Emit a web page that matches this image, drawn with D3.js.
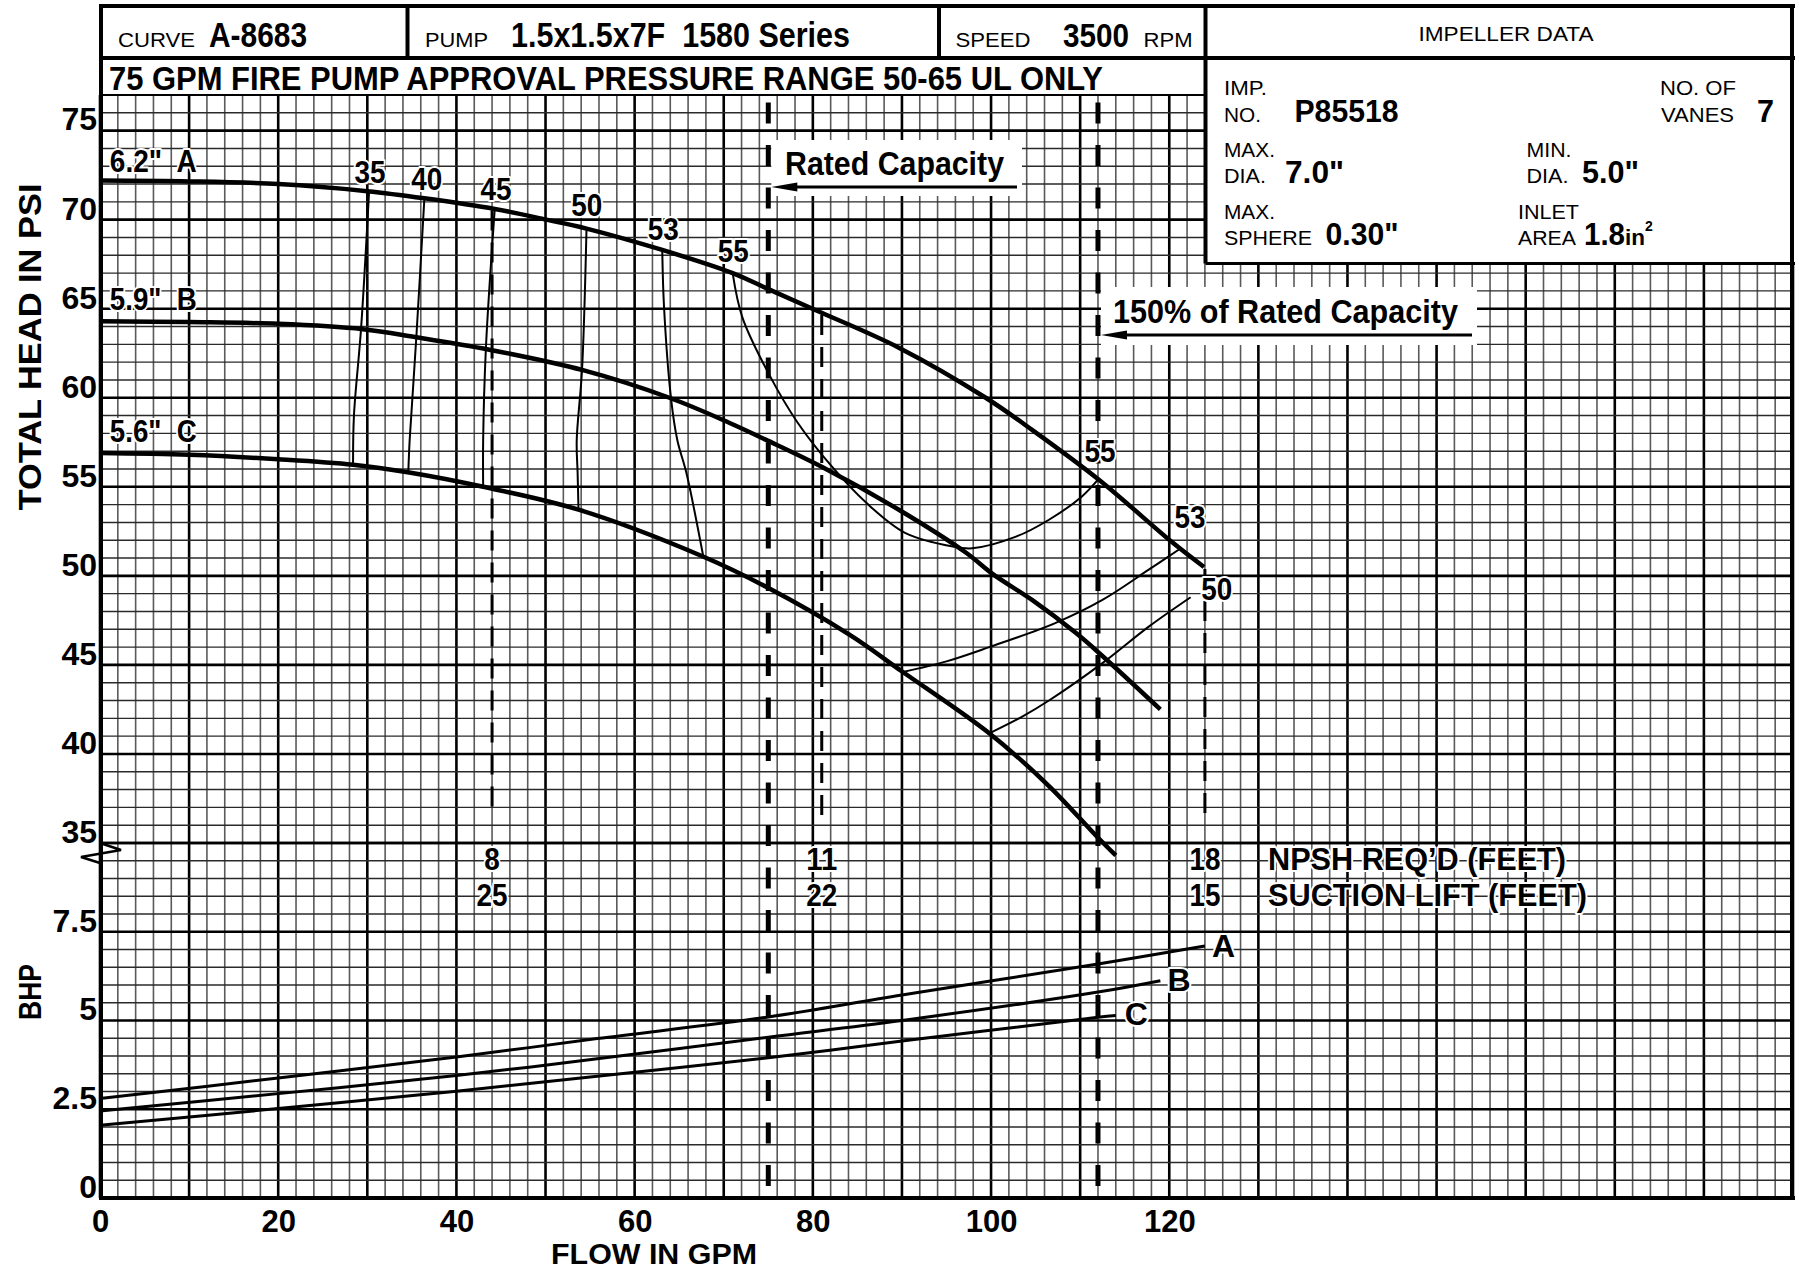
<!DOCTYPE html>
<html><head><meta charset="utf-8">
<script src="https://cdn.jsdelivr.net/npm/d3@7"></script>
<style>
body{margin:0;background:#fff}
svg{display:block}
text{font-family:"Liberation Sans",Arial,Helvetica,sans-serif}
</style>
</head><body>
<svg id="c" width="1799" height="1270"></svg>
<script>
// ---------------- DATA ----------------
const flowTicks = [0, 20, 40, 60, 80, 100, 120];
const headTicks = [35, 40, 45, 50, 55, 60, 65, 70, 75];
const bhpTicks = [0, 2.5, 5, 7.5];

// Head curves [flow GPM, head PSI]
const curveA = [[0,72.2],[10,72.15],[20,72.0],[30,71.6],[36.4,71.2],[44.3,70.6],[50.1,70.0],[54.6,69.5],[63.1,68.3],[71,67.0],[75,66.1],[80.4,64.9],[89.7,62.8],[99.4,60.0],[104.6,58.2],[112.1,55.4],[120.3,51.9],[123.9,50.5]];
const curveB = [[0,64.3],[10,64.25],[20,64.15],[29.5,63.85],[35.5,63.4],[43.7,62.7],[54.2,61.55],[63.9,60.0],[70.6,58.6],[74.7,57.65],[81.1,56.1],[89.7,53.7],[97.2,51.3],[100.2,50.1],[104.6,48.65],[109.5,46.8],[112.5,45.5],[119.0,42.5]];
const curveC = [[0,56.9],[10,56.8],[20,56.55],[28.4,56.24],[34.7,55.8],[43.0,55.0],[53.8,53.7],[67.6,51.1],[74.7,49.4],[84.1,46.7],[90.1,44.6],[99.8,41.16],[106.5,38.2],[111.9,35.35],[114.0,34.3]];
const curveNames = ['6.2"  A', '5.9"  B', '5.6"  C'];
const curveNamePos = [[1.1,72.68],[1.1,64.93],[1.1,57.52]];

// Efficiency iso-lines
const eff35 = [[30.2,71.6],[29.3,63.9],[28.5,59.0],[28.4,56.24]];
const eff40 = [[36.4,71.16],[35.5,63.4],[34.75,57.6],[34.6,55.8]];
const eff45 = [[44.3,70.6],[43.3,62.7],[43.0,57.6],[43.0,55.0]];
const eff50 = [[54.6,69.5],[54.1,61.6],[53.5,57.6],[53.6,55.8],[53.7,53.7]];
const eff53 = [[63.1,68.3],[63.3,65.1],[64.1,59.9],[64.8,57.6],[65.8,55.8],[67.7,51.1]];
const eff55 = [[71.0,67.0],[72.1,64.5],[75.1,61.3],[78.3,58.6],[82.2,56.1],[86.0,54.1],[90.4,52.4],[95.7,51.65],[97.9,51.55],[102.8,52.2],[106.5,53.15],[110.2,54.46],[112.0,55.4]];
const eff53r = [[90.1,44.6],[95,45.2],[99.8,46.0],[107.2,47.35],[112.5,48.65],[117.7,50.35],[121.3,51.55]];
const eff50r = [[99.8,41.16],[103.5,42.1],[106.5,43.0],[112.5,45.1],[117.7,47.15],[122.4,48.8]];
const effValues = [35, 40, 45, 50, 53, 55, 55, 53, 50];
const effLabelPos = [[30.3,72.06],[36.66,71.66],[44.44,71.10],[54.62,70.18],[63.22,68.86],[71.07,67.65],[112.23,56.42],[122.33,52.69],[125.32,48.64]];

// BHP curves [flow GPM, BHP]
const bhpA = [[0,2.8],[20,3.38],[40,3.97],[55.8,4.49],[75,5.1],[90,5.72],[112,6.59],[124,7.1]];
const bhpB = [[0,2.45],[20,2.94],[40,3.45],[55.8,3.92],[75,4.53],[90,5.0],[112,5.8],[119,6.12]];
const bhpC = [[0,2.05],[20,2.52],[40,3.01],[55.8,3.43],[75,3.95],[90,4.42],[112,5.09],[114,5.14]];
const bhpNames = ["A", "B", "C"];
const bhpNamePos = [[126.1,6.80],[121.1,5.83],[116.3,4.87]];

// NPSH / suction lift
const npshFlow = [44, 81, 124];
const npshReq = [8, 11, 18];
const suctionLift = [25, 22, 15];
const ratedFlow = 75;
const flow150 = 112;

// ---------------- SCALES ----------------
const svg = d3.select("#c");
const x = d3.scaleLinear().domain([0, 190]).range([100, 1793]);
const yH = d3.scaleLinear().domain([35, 77]).range([843, 95]);
const yB = d3.scaleLinear().domain([0, 10]).range([1198, 843]);

const baseFam = '"Liberation Sans",Arial,Helvetica,sans-serif';

function txt(g, s, px, py, o = {}) {
  const t = g.append("text").attr("x", px).attr("y", py).text(s)
    .attr("font-size", o.size || 20)
    .attr("font-weight", o.bold ? "bold" : "normal")
    .attr("text-anchor", o.anchor || "start")
    .attr("font-family", baseFam)
    .attr("fill", "#000");
  if (o.len) t.attr("textLength", o.len).attr("lengthAdjust", "spacingAndGlyphs");
  if (o.halo) t.attr("stroke", "#fff").attr("stroke-width", o.halo).attr("paint-order", "stroke").attr("stroke-linejoin", "round");
  if (o.pre) t.style("white-space", "pre");
  return t;
}

// ---------------- GRID ----------------
const grid = svg.append("g");
d3.range(0, 191, 2).forEach(g => {
  const major = g % 10 === 0;
  grid.append("line").attr("x1", x(g)).attr("x2", x(g)).attr("y1", yH(77)).attr("y2", yB(0))
    .attr("stroke", major ? "#000" : "#5a5a5a").attr("stroke-width", major ? 2.6 : 1.6);
});
d3.range(35, 77.01, 1).forEach(p => {
  const major = p % 5 === 0;
  grid.append("line").attr("x1", x(0)).attr("x2", x(190)).attr("y1", yH(p)).attr("y2", yH(p))
    .attr("stroke", major ? "#000" : "#2a2a2a").attr("stroke-width", major ? 2.6 : 1.4);
});
d3.range(0, 10.01, 0.5).forEach(b => {
  const major = b % 2.5 === 0;
  grid.append("line").attr("x1", x(0)).attr("x2", x(190)).attr("y1", yB(b)).attr("y2", yB(b))
    .attr("stroke", major ? "#000" : "#2a2a2a").attr("stroke-width", major ? 2.6 : 1.4);
});
grid.append("line").attr("x1", x(0)).attr("x2", x(190)).attr("y1", yH(77)).attr("y2", yH(77)).attr("stroke", "#000").attr("stroke-width", 2);

// ---------------- HEADER BACKGROUND ----------------
svg.append("rect").attr("x", 100).attr("y", 0).attr("width", 1106).attr("height", yH(77) - 1).attr("fill", "#fff");
svg.append("rect").attr("x", 1205).attr("y", 0).attr("width", 594).attr("height", 263).attr("fill", "#fff");

// ---------------- CURVES ----------------
const lineH = d3.line().x(d => x(d[0])).y(d => yH(d[1])).curve(d3.curveCatmullRom.alpha(0.5));
const lineB = d3.line().x(d => x(d[0])).y(d => yB(d[1])).curve(d3.curveCatmullRom.alpha(0.5));
const curves = svg.append("g").attr("fill", "none").attr("stroke", "#000");

[eff35, eff40, eff45, eff50, eff53, eff55, eff53r, eff50r].forEach(d => {
  curves.append("path").attr("d", lineH(d)).attr("stroke-width", 2);
});
[curveA, curveB, curveC].forEach(d => {
  curves.append("path").attr("d", lineH(d)).attr("stroke-width", 4.5).attr("stroke-linecap", "butt");
});
[bhpA, bhpB, bhpC].forEach(d => {
  curves.append("path").attr("d", lineB(d)).attr("stroke-width", 3);
});

// Dashed lines
const dash = svg.append("g").attr("stroke", "#000").attr("fill", "none");
[ratedFlow, flow150].forEach(f => {
  dash.append("line").attr("x1", x(f)).attr("x2", x(f)).attr("y1", 102.5).attr("y2", yB(0) - 2)
    .attr("stroke-width", 5).attr("stroke-dasharray", "21,21.5");
});
const headAtA = f => {
  const i = d3.bisector(d => d[0]).left(curveA, f);
  const a = curveA[Math.max(0, i - 1)], b = curveA[Math.min(curveA.length - 1, i)];
  if (a === b || b[0] === a[0]) return a[1];
  return a[1] + (b[1] - a[1]) * (f - a[0]) / (b[0] - a[0]);
};
npshFlow.forEach(f => {
  dash.append("line").attr("x1", x(f)).attr("x2", x(f)).attr("y1", yH(headAtA(f)) + 2).attr("y2", yH(36.45))
    .attr("stroke-width", 3).attr("stroke-dasharray", "20,12");
});

// Break symbol
svg.append("polyline").attr("points", [[x(0), yH(35)], [x(0) + 21, yH(35) + 7], [x(0) - 19, yH(35) + 14], [x(0), yH(35) + 20]].map(p => p.join(",")).join(" "))
  .attr("fill", "none").attr("stroke", "#000").attr("stroke-width", 2.5);

// ---------------- FRAME ----------------
const fr = svg.append("g").attr("stroke", "#000").attr("stroke-width", 4);
fr.append("line").attr("x1", 99).attr("x2", 1795).attr("y1", 6).attr("y2", 6);
fr.append("line").attr("x1", 101).attr("x2", 101).attr("y1", 4).attr("y2", 1200);
fr.append("line").attr("x1", 99).attr("x2", 1795).attr("y1", 1198).attr("y2", 1198);
fr.append("line").attr("x1", 1792).attr("x2", 1792).attr("y1", 4).attr("y2", 1200);
fr.append("line").attr("x1", 99).attr("x2", 1795).attr("y1", 58).attr("y2", 58);
fr.append("line").attr("x1", 407.5).attr("x2", 407.5).attr("y1", 6).attr("y2", 58);
fr.append("line").attr("x1", 939).attr("x2", 939).attr("y1", 6).attr("y2", 58);
fr.append("line").attr("x1", 1205.5).attr("x2", 1205.5).attr("y1", 6).attr("y2", 263.5);
fr.append("line").attr("x1", 1205.5).attr("x2", 1795).attr("y1", 263.5).attr("y2", 263.5).attr("stroke-width", 3);

// ---------------- ANNOTATION BOXES ----------------
const ann = svg.append("g");
function callout(x0, x1, y0, y1, label, tx, ty, size, len, ay, ax1) {
  ann.append("rect").attr("x", x0).attr("y", y0).attr("width", x1 - x0).attr("height", y1 - y0).attr("fill", "#fff");
  txt(ann, label, tx, ty, { size: size, bold: true, len: len });
  ann.append("line").attr("x1", x0 + 20).attr("x2", ax1).attr("y1", ay).attr("y2", ay).attr("stroke", "#000").attr("stroke-width", 3);
  ann.append("path").attr("d", `M${x0},${ay} L${x0 + 26},${ay - 4.5} L${x0 + 26},${ay + 4.5} Z`).attr("fill", "#000");
}
callout(x(ratedFlow) + 3, 1022, 140, 196, "Rated Capacity", 785, 175, 33, 219, 187, 1017);
callout(x(flow150) + 3, 1477, 287, 345, "150% of Rated Capacity", 1113, 322.5, 34, 345, 335, 1472);

// ---------------- AXES ----------------
const axH = svg.append("g").attr("transform", `translate(${x(0) - 3},0)`)
  .call(d3.axisLeft(yH).tickValues(headTicks).tickSize(0).tickPadding(0).tickFormat(d3.format("d")));
const axB = svg.append("g").attr("transform", `translate(${x(0) - 3},0)`)
  .call(d3.axisLeft(yB).tickValues(bhpTicks).tickSize(0).tickPadding(0).tickFormat(d => String(d)));
const axX = svg.append("g").attr("transform", `translate(0,${yB(0)})`)
  .call(d3.axisBottom(x).tickValues(flowTicks).tickSize(0).tickPadding(12).tickFormat(d3.format("d")));
[axH, axB, axX].forEach(a => {
  a.select(".domain").remove();
  a.attr("font-family", baseFam);
  a.selectAll("text").attr("font-size", 32).attr("font-weight", "bold").attr("fill", "#000");
});
axX.selectAll("text").attr("font-size", 31);
axH.selectAll("text").attr("dy", "-0.02em");
axB.selectAll("text").attr("dy", "-0.02em");

txt(svg, "FLOW IN GPM", 654, 1263.5, { size: 29, bold: true, anchor: "middle", len: 206 });
txt(svg, "TOTAL HEAD IN PSI", 0, 0, { size: 31, bold: true, anchor: "middle", len: 327 })
  .attr("transform", "translate(41,347) rotate(-90)");
txt(svg, "BHP", 0, 0, { size: 31, bold: true, anchor: "middle", len: 56 })
  .attr("transform", "translate(41,992) rotate(-90)");

// ---------------- LABELS ----------------
const lab = svg.append("g");
curveNames.forEach((n, i) => {
  txt(lab, n, x(curveNamePos[i][0]), yH(curveNamePos[i][1]), { size: 31, bold: true, len: 87, halo: 4, pre: true });
});
effValues.forEach((v, i) => {
  txt(lab, String(v), x(effLabelPos[i][0]), yH(effLabelPos[i][1]), { size: 32, bold: true, anchor: "middle", len: 31, halo: 4 });
});
bhpNames.forEach((n, i) => {
  txt(lab, n, x(bhpNamePos[i][0]), yB(bhpNamePos[i][1]), { size: 32, bold: true, anchor: "middle", halo: 4 });
});
npshFlow.forEach((f, i) => {
  const r = String(npshReq[i]), s = String(suctionLift[i]);
  txt(lab, r, x(f), yH(35) + 26.5, { size: 32, bold: true, anchor: "middle", len: r.length * 15.5, halo: 4 });
  txt(lab, s, x(f), yH(35) + 62.5, { size: 32, bold: true, anchor: "middle", len: s.length * 15.5, halo: 4 });
});
txt(lab, "NPSH REQ\u2019D (FEET)", 1268, yH(35) + 26.5, { size: 32, bold: true, len: 298, halo: 4 });
txt(lab, "SUCTION LIFT (FEET)", 1268, yH(35) + 62.5, { size: 32, bold: true, len: 319, halo: 4 });

// ---------------- HEADER TEXT ----------------
const hd = svg.append("g");
txt(hd, "CURVE", 118, 47, { size: 20, len: 77 });
txt(hd, "A-8683", 209, 47, { size: 35, bold: true, len: 98 });
txt(hd, "PUMP", 425, 47, { size: 20, len: 63 });
txt(hd, "1.5x1.5x7F  1580 Series", 511, 47, { size: 35, bold: true, len: 339, pre: true });
txt(hd, "SPEED", 955.5, 47, { size: 20, len: 75 });
txt(hd, "3500", 1063, 47, { size: 34, bold: true, len: 66 });
txt(hd, "RPM", 1143.5, 47, { size: 20, len: 49 });
txt(hd, "IMPELLER DATA", 1506, 40.5, { size: 20, anchor: "middle", len: 175 });
txt(hd, "75 GPM FIRE PUMP APPROVAL PRESSURE RANGE 50-65 UL ONLY", 109, 90, { size: 33, bold: true, len: 994 });

txt(hd, "IMP.", 1224, 95, { size: 20, len: 43 });
txt(hd, "NO.", 1224, 121.5, { size: 20, len: 37 });
txt(hd, "P85518", 1294.5, 121.5, { size: 31, bold: true, len: 104 });
txt(hd, "NO. OF", 1660, 95, { size: 20, len: 76 });
txt(hd, "VANES", 1661, 121.5, { size: 20, len: 73 });
txt(hd, "7", 1757, 121.5, { size: 32, bold: true, len: 17 });
txt(hd, "MAX.", 1224, 156.5, { size: 20, len: 51 });
txt(hd, "DIA.", 1224, 183, { size: 20, len: 42 });
txt(hd, "7.0\"", 1285, 183, { size: 32, bold: true, len: 59 });
txt(hd, "MIN.", 1526.5, 156.5, { size: 20, len: 45 });
txt(hd, "DIA.", 1526.5, 183, { size: 20, len: 42 });
txt(hd, "5.0\"", 1582, 183, { size: 32, bold: true, len: 57 });
txt(hd, "MAX.", 1224, 219, { size: 20, len: 51 });
txt(hd, "SPHERE", 1224, 245, { size: 20, len: 88 });
txt(hd, "0.30\"", 1325.5, 245, { size: 32, bold: true, len: 73 });
txt(hd, "INLET", 1518, 219, { size: 20, len: 61 });
txt(hd, "AREA", 1518, 245, { size: 20, len: 58 });
txt(hd, "1.8", 1584, 245, { size: 32, bold: true, len: 41 });
txt(hd, "in", 1625, 245, { size: 22, bold: true, len: 20 });
txt(hd, "2", 1645, 231, { size: 14, bold: true });
</script>
</body></html>
